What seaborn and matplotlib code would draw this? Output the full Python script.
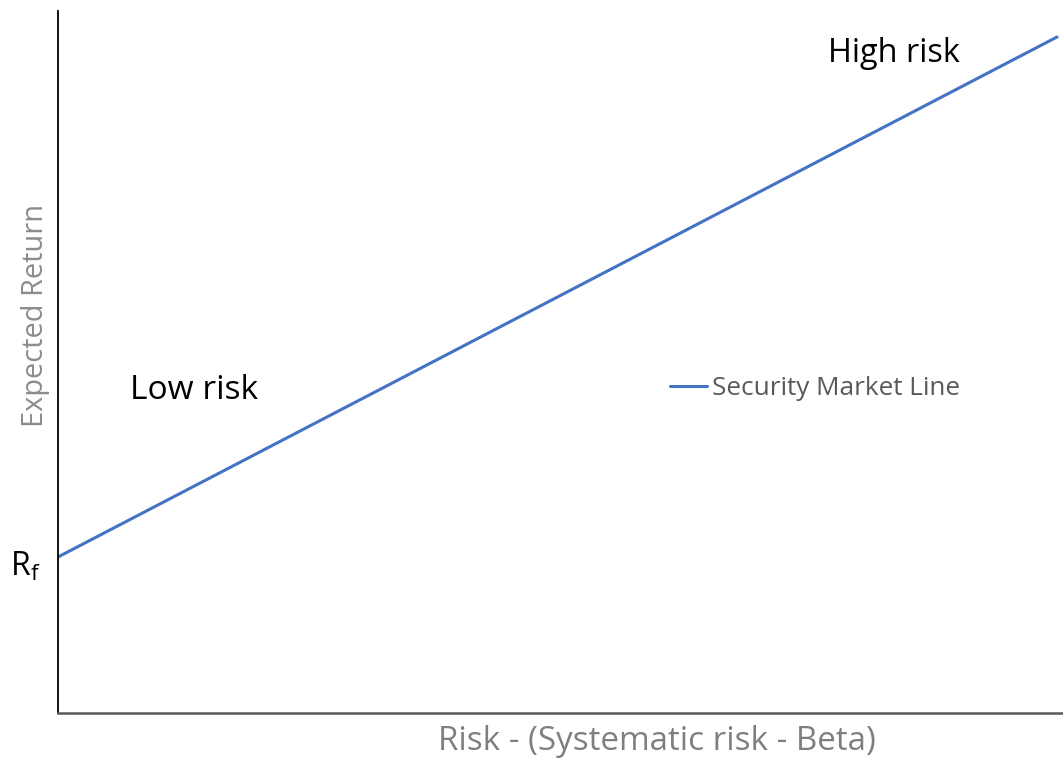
import matplotlib
matplotlib.use('Agg')
import matplotlib.pyplot as plt
import seaborn as sns
import pandas as pd

# Security Market Line data (beta vs expected return)
beta = [0.0, 2.0]
expected_return = [3.0, 13.0]
risk_free = 3.0
series_name = 'Security Market Line'

sns.set_theme(style="white")
plt.rcParams['font.family'] = ['Open Sans', 'DejaVu Sans']

df = pd.DataFrame({'beta': beta, 'ret': expected_return, 'series': series_name})

fig = plt.figure(figsize=(10.63, 7.6), dpi=100)
ax = fig.add_axes([58 / 1063, 47 / 760, 1005 / 1063, 702 / 760])

sns.lineplot(data=df, x='beta', y='ret', hue='series', palette=['#4472C4'],
             linewidth=2.2, ax=ax)

ax.set_xlim(0, 2.012)
ax.set_ylim(0, 13.5)
ax.set_xticks([])
ax.set_yticks([])

for side in ['top', 'right']:
    ax.spines[side].set_visible(False)
ax.spines['left'].set_color('black')
ax.spines['left'].set_linewidth(1.3)
ax.spines['bottom'].set_color('#595959')
ax.spines['bottom'].set_linewidth(1.8)

ax.set_xlabel('Risk - (Systematic risk - Beta)', fontsize=23.9, color='#7f7f7f', va='center')
ax.xaxis.set_label_coords(0.596, -0.041)
ax.set_ylabel('Expected Return', fontsize=20.9, color='#8c8c8c', va='center')
ax.yaxis.set_label_coords(-0.022, 0.566)

ax.legend(loc='center left', bbox_to_anchor=(0.609, 0.462), frameon=False,
          borderaxespad=0, borderpad=0,
          handlelength=1.4, handletextpad=0.22, fontsize=18.8, labelcolor='#595959')

ax.text(0.072, 0.459, 'Low risk', transform=ax.transAxes, fontsize=24.1,
        color='black', va='center', ha='left')
ax.text(0.766, 0.939, 'High risk', transform=ax.transAxes, fontsize=23.4,
        color='black', va='center', ha='left')
ax.text(-0.048, 0.208, 'R$_\\mathregular{f}$', transform=ax.transAxes, fontsize=23,
        color='black', va='center', ha='left')

fig.savefig('out.png', dpi=100)
